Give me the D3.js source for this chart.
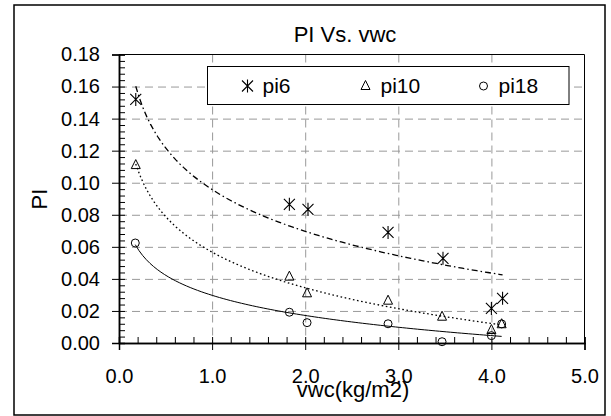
<!DOCTYPE html>
<html>
<head>
<meta charset="utf-8">
<script src="https://cdn.jsdelivr.net/npm/d3@7"></script>
<style>
  body { margin: 0; background: #fff; }
  .Chart { width: 611px; height: 416px; }
  text { font-family: "Liberation Sans", Arial, sans-serif; fill: #000; }
</style>
</head>
<body>
<div class="Chart"></div>
<script>
// data
const pi6X = [0.18, 1.83, 2.03, 2.89, 3.48, 4.0, 4.12];
const pi6Y = [0.152, 0.0865, 0.0834, 0.069, 0.0528, 0.0216, 0.0279];
const pi10X = [0.18, 1.83, 2.02, 2.89, 3.47, 4.0, 4.11];
const pi10Y = [0.111, 0.0414, 0.031, 0.0264, 0.0164, 0.0081, 0.0117];
const pi18X = [0.175, 1.83, 2.02, 2.89, 3.47, 4.0, 4.11];
const pi18Y = [0.0624, 0.0192, 0.0127, 0.012, 0.0008, 0.0046, 0.0119];
const seriesNames = ["pi6", "pi10", "pi18"];
const xTicks = [0, 1, 2, 3, 4, 5];
const yTicks = [0, 0.02, 0.04, 0.06, 0.08, 0.1, 0.12, 0.14, 0.16, 0.18];

const w = 611;
const h = 416;

const xScale = d3.scaleLinear().domain([0, 5]).range([119, 584.5]);
const yScale = d3.scaleLinear().domain([0, 0.18]).range([343, 54.5]);

const svg = d3
  .select(".Chart")
  .append("svg")
  .attr("width", w)
  .attr("height", h);

// outer frame
svg
  .append("rect")
  .attr("x", 14)
  .attr("y", 5)
  .attr("width", 591)
  .attr("height", 410)
  .attr("fill", "#fff")
  .attr("stroke", "#000")
  .attr("stroke-width", 1.5);

// gridlines
const grid = svg.append("g").attr("stroke", "#999").attr("stroke-dasharray", "8,5");
grid
  .selectAll("line.h")
  .data(yTicks.slice(1, -1))
  .enter()
  .append("line")
  .attr("x1", xScale(0))
  .attr("x2", xScale(5))
  .attr("y1", d => yScale(d) + 0.5)
  .attr("y2", d => yScale(d) + 0.5);
grid
  .selectAll("line.v")
  .data(xTicks.slice(1, -1))
  .enter()
  .append("line")
  .attr("y1", yScale(0.18))
  .attr("y2", yScale(0))
  .attr("x1", d => xScale(d) + 0.5)
  .attr("x2", d => xScale(d) + 0.5);

// plot border top / right
svg
  .append("path")
  .attr("d", `M${xScale(0)},${yScale(0.18)}H${xScale(5)}V${yScale(0)}`)
  .attr("fill", "none")
  .attr("stroke", "#000")
  .attr("stroke-width", 1);

// minor ticks
const yMinor = d3.range(0, 0.1801, 0.004);
const xMinor = d3.range(0, 5.001, 0.2);

const yAxis = d3.axisLeft(yScale).tickValues(yTicks).tickFormat(d3.format(".2f")).tickSize(7).tickPadding(12);
const yInner = d3.axisLeft(yScale).tickValues(yMinor).tickFormat("").tickSize(-6);
const xAxis = d3.axisBottom(xScale).tickValues(xTicks).tickFormat(d3.format(".1f")).tickSize(7).tickPadding(19);
const xInner = d3.axisBottom(xScale).tickValues(xMinor).tickFormat("").tickSize(-6);

function style(g, fs) {
  g.select(".domain").attr("stroke", "#000").attr("stroke-width", 1.5);
  g.selectAll(".tick line").attr("stroke", "#000").attr("stroke-width", 1);
  g.selectAll("text").style("font-size", fs + "px").attr("fill", "#000");
}

svg.append("g").attr("transform", "translate(" + xScale(0) + ",0)").call(yInner).call(style, 20);
svg.append("g").attr("transform", "translate(" + xScale(0) + ",0)").call(yAxis).call(style, 20);
svg.append("g").attr("transform", "translate(0," + yScale(0) + ")").call(xInner).call(style, 20);
svg.append("g").attr("transform", "translate(0," + yScale(0) + ")").call(xAxis).call(style, 20);

// titles
svg.append("text").text("PI Vs. vwc").attr("x", 345).attr("y", 41.5).attr("text-anchor", "middle").style("font-size", "22px");
svg.append("text").text("vwc(kg/m2)").attr("x", 353).attr("y", 396.5).attr("text-anchor", "middle").style("font-size", "22px");
svg.append("text").text("PI").attr("transform", "translate(46.5,199) rotate(-90)").attr("text-anchor", "middle").style("font-size", "22px");

// log trendlines computed from each series (least squares on ln x)
function logFit(xs, ys) {
  const lx = xs.map(Math.log);
  const mx = d3.mean(lx);
  const my = d3.mean(ys);
  const a = d3.sum(lx, (v, i) => (v - mx) * (ys[i] - my)) / d3.sum(lx, v => (v - mx) * (v - mx));
  return x => a * Math.log(x) + (my - a * mx);
}

const series = [
  { name: seriesNames[0], xs: pi6X, ys: pi6Y, dash: "6,3,1.5,3", marker: "star" },
  { name: seriesNames[1], xs: pi10X, ys: pi10Y, dash: "1.6,2.6", marker: "tri" },
  { name: seriesNames[2], xs: pi18X, ys: pi18Y, dash: null, marker: "circ" }
];

const line = d3.line().x(d => xScale(d[0])).y(d => yScale(d[1]));

series.forEach(s => {
  const f = logFit(s.xs, s.ys);
  const x0 = d3.min(s.xs);
  const x1 = d3.max(s.xs);
  const pts = d3.range(0, 101).map(i => {
    const x = x0 + (x1 - x0) * i / 100;
    return [x, f(x)];
  });
  svg
    .append("path")
    .attr("d", line(pts))
    .attr("fill", "none")
    .attr("stroke", "#000")
    .attr("stroke-width", s.dash ? 1.3 : 1)
    .attr("stroke-dasharray", s.dash);
});

function drawMarker(g, type, x, y) {
  if (type === "star") {
    const r = 5.5;
    g.append("path")
      .attr("d", `M${x - r},${y - r}L${x + r},${y + r}M${x - r},${y + r}L${x + r},${y - r}M${x},${y - r - 1}L${x},${y + r + 1}`)
      .attr("stroke", "#000")
      .attr("stroke-width", 1.1)
      .attr("fill", "none");
  } else if (type === "tri") {
    g.append("path")
      .attr("d", `M${x},${y - 5.5}L${x + 4.5},${y + 3.5}L${x - 4.5},${y + 3.5}Z`)
      .attr("stroke", "#000")
      .attr("stroke-width", 1)
      .attr("fill", "none");
  } else {
    g.append("circle")
      .attr("cx", x)
      .attr("cy", y)
      .attr("r", 4)
      .attr("stroke", "#000")
      .attr("stroke-width", 1)
      .attr("fill", "none");
  }
}

series.forEach(s => {
  const g = svg.append("g");
  s.xs.forEach((x, i) => drawMarker(g, s.marker, xScale(x), yScale(s.ys[i])));
});

// legend
const legend = svg.append("g");
legend
  .append("rect")
  .attr("x", 207.5)
  .attr("y", 66.5)
  .attr("width", 361.5)
  .attr("height", 38)
  .attr("fill", "#fff")
  .attr("stroke", "#000")
  .attr("stroke-width", 1);
const legendX = [247.5, 365.5, 483.5];
series.forEach((s, i) => {
  drawMarker(legend, s.marker, legendX[i], 86);
  legend
    .append("text")
    .text(s.name)
    .attr("x", legendX[i] + 15)
    .attr("y", 92.5)
    .style("font-size", "21px");
});
</script>
</body>
</html>
